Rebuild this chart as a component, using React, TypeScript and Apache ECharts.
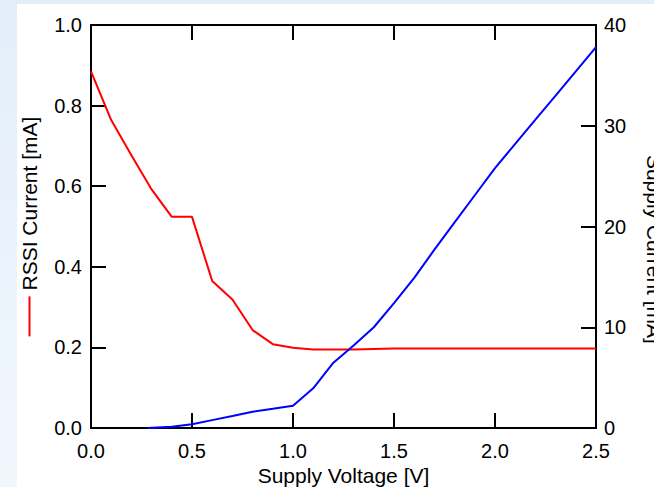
import React, { useEffect, useRef } from "react";
import * as echarts from "echarts";

// Supply voltage [V] (x) and measured currents
const rssiVoltage = [0.0, 0.1, 0.2, 0.3, 0.4, 0.5, 0.6, 0.7, 0.8, 0.9, 1.0, 1.1, 1.2, 1.3, 1.4, 1.5, 1.6, 1.7, 1.8, 1.9, 2.0, 2.1, 2.2, 2.3, 2.4, 2.5];
const rssiCurrent = [0.885, 0.764, 0.677, 0.592, 0.524, 0.524, 0.365, 0.319, 0.243, 0.208, 0.199, 0.195, 0.195, 0.195, 0.196, 0.197, 0.197, 0.197, 0.197, 0.197, 0.197, 0.197, 0.197, 0.197, 0.197, 0.197];

const supplyVoltage = [0.28, 0.4, 0.5, 0.6, 0.7, 0.8, 0.9, 1.0, 1.1, 1.2, 1.3, 1.4, 1.5, 1.6, 1.7, 1.8, 1.9, 2.0, 2.1, 2.2, 2.3, 2.4, 2.5];
const supplyCurrent = [0.0, 0.13, 0.37, 0.78, 1.19, 1.62, 1.9, 2.21, 3.94, 6.48, 8.2, 10.0, 12.4, 14.9, 17.7, 20.4, 23.1, 25.8, 28.2, 30.6, 33.0, 35.4, 37.8];

const xTitle = "Supply Voltage [V]";
const leftTitle = "RSSI Current [mA]";
const rightTitle = "Supply Current [mA]";

const FONT = "'Liberation Sans', Arial, sans-serif";

const mkLine = () => ({ show: true, onZero: false, lineStyle: { color: "#000", width: 2 } });
const mkTick = () => ({ show: true, inside: true, length: 15, lineStyle: { color: "#000", width: 2 } });

export default function App() {
  const ref = useRef<HTMLDivElement>(null);
  useEffect(() => {
    if (!ref.current) return;
    const chart = echarts.init(ref.current, undefined, { renderer: "svg" });
    const labelBase = { color: "#000", fontSize: 20, fontFamily: FONT };
    chart.setOption({
      animation: false,
      backgroundColor: "transparent",
      grid: { left: 91, right: 58, top: 25, bottom: 59, containLabel: false, outerBoundsMode: "none" },
      xAxis: [
        {
          type: "value", min: 0, max: 2.5, interval: 0.5, position: "bottom",
          axisLine: mkLine(), axisTick: mkTick(), splitLine: { show: false },
          axisLabel: { ...labelBase, margin: 13, showMinLabel: true, showMaxLabel: true, formatter: (v: number) => v.toFixed(1) },
          name: xTitle, nameLocation: "middle", nameGap: 37, nameMoveOverlap: false,
          nameTextStyle: { color: "#000", fontSize: 21, fontFamily: FONT },
        },
        {
          type: "value", min: 0, max: 2.5, interval: 0.5, position: "top",
          axisLine: mkLine(), axisTick: mkTick(), splitLine: { show: false }, axisLabel: { show: false },
        },
      ],
      yAxis: [
        {
          type: "value", min: 0, max: 1, interval: 0.2, position: "left",
          axisLine: mkLine(), axisTick: mkTick(), splitLine: { show: false },
          axisLabel: { ...labelBase, margin: 9, showMinLabel: true, showMaxLabel: true, formatter: (v: number) => v.toFixed(1) },
          name: "{sym| }{t| " + leftTitle + "}", nameLocation: "middle", nameRotate: 90, nameGap: 51, nameMoveOverlap: false,
          nameTextStyle: {
            color: "#000", fontSize: 21, fontFamily: FONT,
            rich: {
              sym: { width: 40, height: 2, backgroundColor: "#ff0000", fontSize: 1 },
              t: { color: "#000", fontSize: 21, fontFamily: FONT },
            },
          },
        },
        {
          type: "value", min: 0, max: 40, interval: 10, position: "right",
          axisLine: mkLine(), axisTick: mkTick(), splitLine: { show: false },
          axisLabel: { ...labelBase, margin: 8, showMinLabel: true, showMaxLabel: true },
          name: "{sym| }{t| " + rightTitle + "}", nameLocation: "middle", nameRotate: -90, nameGap: 48, nameMoveOverlap: false,
          nameTextStyle: {
            color: "#000", fontSize: 21, fontFamily: FONT,
            rich: {
              sym: { width: 40, height: 2, fontSize: 1 },
              t: { color: "#000", fontSize: 21, fontFamily: FONT },
            },
          },
        },
      ],
      series: [
        {
          name: leftTitle, type: "line", xAxisIndex: 0, yAxisIndex: 0,
          data: rssiVoltage.map((v, i) => [v, rssiCurrent[i]]),
          showSymbol: false, symbol: "none", lineStyle: { color: "#ff0000", width: 2 }, itemStyle: { color: "#ff0000" },
        },
        {
          name: rightTitle, type: "line", xAxisIndex: 0, yAxisIndex: 1,
          data: supplyVoltage.map((v, i) => [v, supplyCurrent[i]]),
          showSymbol: false, symbol: "none", lineStyle: { color: "#0000ff", width: 2 }, itemStyle: { color: "#0000ff" },
        },
      ],
    });
    return () => chart.dispose();
  }, []);
  return (
    <div
      style={{
        position: "absolute", left: 0, top: 0, width: 654, height: 487,
        background: "linear-gradient(#ffffff, #ffffff) 17px 4px / 637px 483px no-repeat, linear-gradient(#e3eefa, #f1f7fd)",
      }}
    >
      <div ref={ref} style={{ width: 654, height: 487 }} />
    </div>
  );
}
